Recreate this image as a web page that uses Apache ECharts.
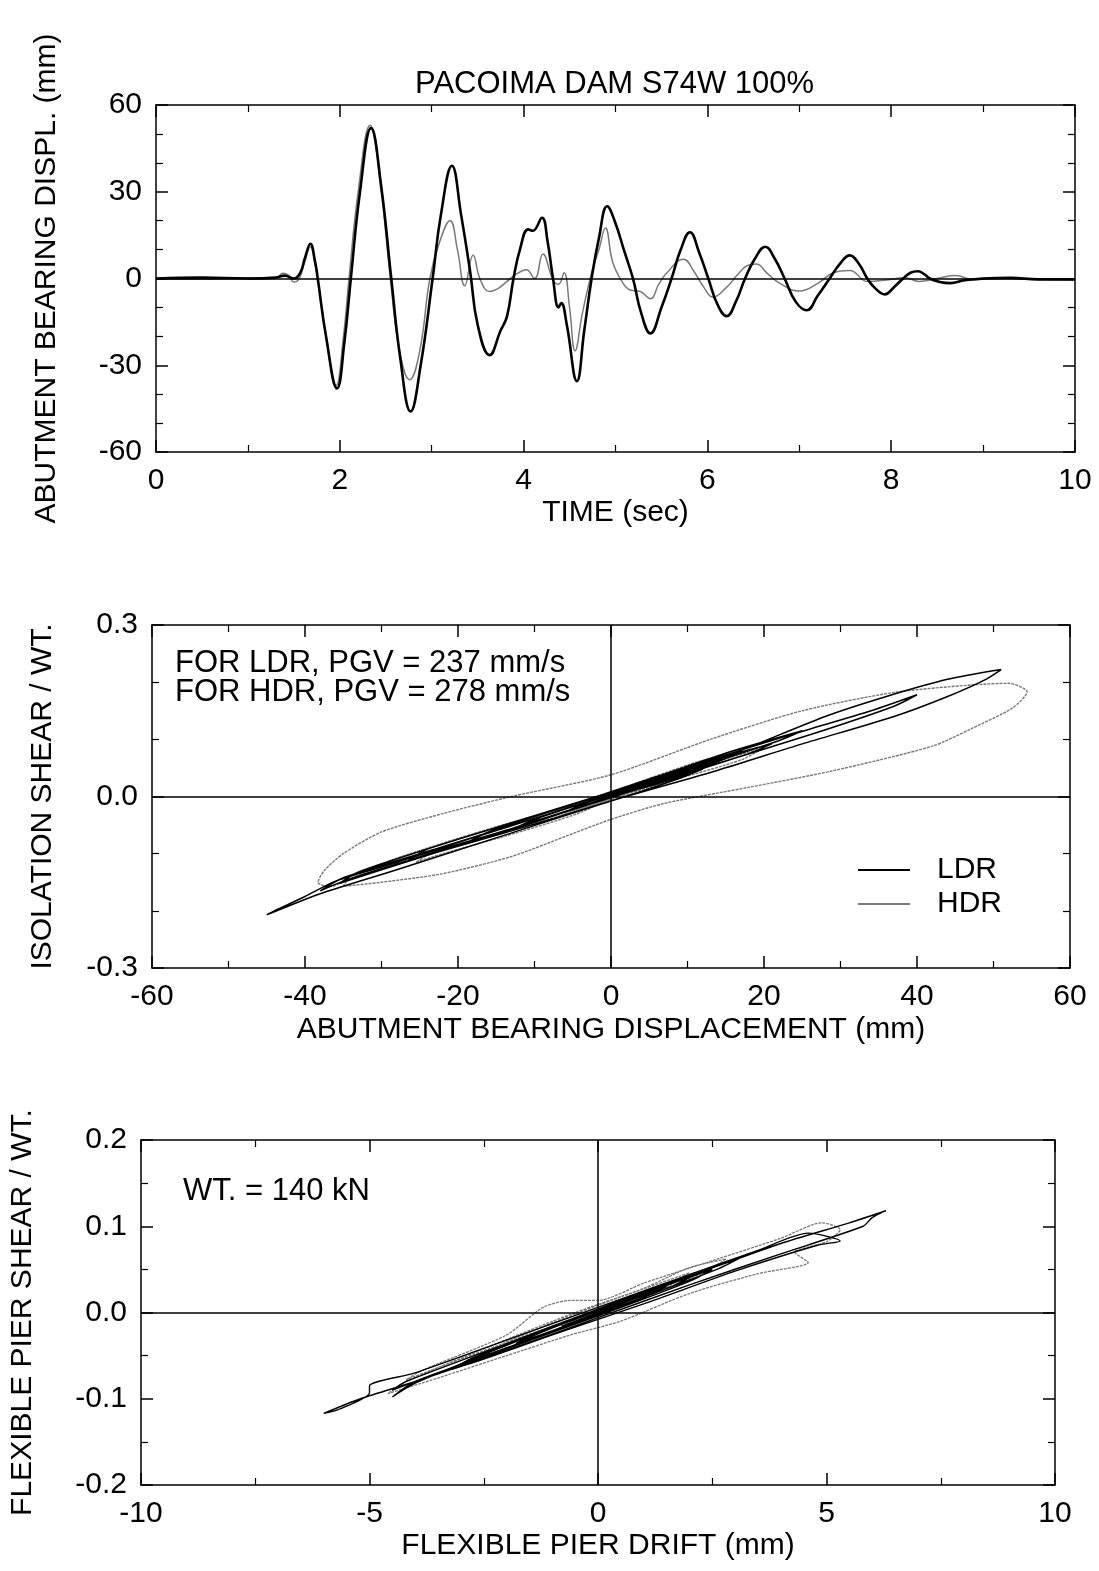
<!DOCTYPE html>
<html>
<head>
<meta charset="utf-8">
<script src="https://cdn.jsdelivr.net/npm/echarts@6/dist/echarts.min.js"></script>
<style>
  html, body { margin: 0; padding: 0; background: #fff; }
  #chart { width: 1099px; height: 1571px; }
</style>
</head>
<body>
<div id="chart"></div>
<script>
// time history: [time (sec), displacement (mm)]
const ldrTime = [[0,0],[0.5,0.3],[1.0,0],[1.3,0.3],[1.4,1],[1.5,0],[1.57,2],[1.62,7],[1.68,12],[1.73,6],[1.76,0],[1.85,-20],[1.97,-38],[2.05,-22],[2.12,0],[2.22,30],[2.34,52],[2.45,32],[2.56,0],[2.66,-28],[2.77,-46],[2.88,-30],[3.01,0],[3.1,22],[3.22,39],[3.32,22],[3.42,2],[3.5,-16],[3.63,-26.5],[3.75,-18],[3.82,-13],[3.89,0],[3.96,10],[4.05,17],[4.1,16.5],[4.2,21],[4.26,13],[4.32,0],[4.38,-10],[4.41,-8.5],[4.47,-16],[4.58,-35.5],[4.66,-18],[4.74,0],[4.82,14],[4.91,25],[4.99,20],[5.1,9],[5.19,0],[5.28,-12],[5.38,-19],[5.5,-10],[5.61,0],[5.71,10],[5.81,16],[5.91,9],[6.01,0],[6.11,-9],[6.21,-13],[6.31,-8],[6.41,0],[6.52,7],[6.63,11],[6.73,7],[6.84,0],[6.96,-8],[7.08,-11],[7.2,-6],[7.33,0],[7.44,5],[7.55,8],[7.65,5],[7.74,0],[7.83,-3.5],[7.93,-5.5],[8.03,-3],[8.13,0],[8.21,2],[8.29,2.5],[8.36,1.5],[8.42,0],[8.53,-1.2],[8.64,-1.6],[8.8,-0.6],[9.0,0],[9.3,0.2],[9.6,-0.3],[10,-0.3]];
const hdrTime = [[0,0],[0.5,-0.3],[1.0,0.2],[1.3,0],[1.38,1.8],[1.44,1.2],[1.5,-1.2],[1.56,0],[1.62,6],[1.68,11],[1.73,5],[1.76,0],[1.85,-20],[1.96,-37],[2.04,-20],[2.1,0],[2.2,30],[2.33,53],[2.44,33],[2.55,0],[2.65,-25],[2.76,-35],[2.87,-25],[2.98,0],[3.08,12],[3.2,20],[3.28,10],[3.36,-2.5],[3.45,8],[3.53,-0.5],[3.63,-4.5],[3.72,-3.5],[3.82,-1],[3.92,1.5],[4.03,3],[4.12,0],[4.21,8.5],[4.32,-0.5],[4.38,-2],[4.44,2],[4.5,-10],[4.56,-25],[4.64,-12],[4.74,2],[4.82,10],[4.89,17.5],[4.97,5.6],[5.07,-1],[5.16,-4],[5.27,-4.5],[5.38,-7],[5.47,-2],[5.56,2],[5.74,6.7],[5.85,2.6],[5.96,-3],[6.06,-6.4],[6.21,-3],[6.32,1],[6.43,4.4],[6.53,5],[6.66,1.5],[6.79,-1.7],[7.0,-4.3],[7.21,-1.5],[7.37,2],[7.55,2.8],[7.74,-1],[7.95,-0.5],[8.15,0.3],[8.3,-1],[8.5,0],[8.7,1],[8.9,-0.5],[9.2,0.3],[9.5,-0.3],[10,-0.5]];

// abutment bearing hysteresis: [displacement (mm), shear / wt]
const ldrLoop = [[0,0],[6,0.022],[12,0.048],[9,0.032],[0,-0.008],[-15,-0.068],[-28,-0.118],[-35,-0.148],[-38,-0.165],[-35,-0.142],[-22,-0.088],[-8,-0.03],[0,0.005],[14,0.065],[28,0.14],[36,0.175],[44,0.205],[51,0.222],[49,0.205],[44,0.175],[37,0.14],[25,0.092],[14,0.046],[0,-0.008],[-14,-0.068],[-28,-0.128],[-38,-0.17],[-45,-0.207],[-44,-0.2],[-40,-0.175],[-36,-0.148],[-28,-0.115],[-18,-0.072],[-8,-0.03],[0,0.005],[12,0.06],[24,0.11],[34,0.15],[40,0.178],[37,0.158],[26,0.108],[12,0.05],[0,0.0],[-12,-0.052],[-22,-0.092],[-26.5,-0.112],[-24,-0.092],[-12,-0.042],[0,0.008],[10,0.05],[17,0.078],[21,0.092],[18,0.075],[8,0.032],[-4,-0.018],[-18,-0.078],[-30,-0.128],[-35.5,-0.152],[-33,-0.132],[-20,-0.075],[-6,-0.018],[6,0.035],[16,0.08],[25,0.115],[22,0.098],[10,0.045],[0,0.0],[-10,-0.045],[-19,-0.082],[-16,-0.062],[-6,-0.018],[6,0.032],[16,0.072],[13,0.056],[3,0.012],[-8,-0.036],[-13,-0.058],[-10,-0.04],[0,0.004],[11,0.05],[8,0.034],[0,-0.002],[-11,-0.048],[-8,-0.03],[0,0.004],[8,0.036],[5,0.02],[-2,-0.01],[-5.5,-0.024],[-3,-0.01],[2.5,0.012],[0,0],[-1.6,-0.008],[0,-0.002]];
const hdrLoop = [[0,0],[1.8,0.012],[-1.2,-0.01],[0,0.002],[6,0.028],[11,0.05],[8,0.032],[0,-0.006],[-12,-0.055],[-24,-0.1],[-32,-0.132],[-37,-0.158],[-38.3,-0.15],[-37.5,-0.13],[-35,-0.1],[-30,-0.062],[-22,-0.03],[-13,0.0],[0,0.038],[13,0.1],[25,0.15],[37,0.182],[47,0.195],[52,0.198],[54.4,0.183],[52.5,0.155],[47,0.118],[42,0.088],[29,0.045],[18,0.016],[7,-0.012],[0,-0.04],[-6,-0.07],[-13,-0.105],[-22,-0.135],[-30,-0.15],[-35,-0.157],[-34,-0.14],[-28,-0.108],[-18,-0.065],[-6,-0.018],[5,0.025],[13,0.058],[20,0.085],[17,0.064],[8,0.028],[0,-0.004],[-2.5,-0.016],[1,0.006],[5,0.026],[8,0.04],[5,0.02],[0,-0.004],[-4.5,-0.024],[-3,-0.012],[0,0.004],[3,0.018],[1,0.004],[-0.5,-0.004],[4,0.024],[8.5,0.044],[5,0.024],[-0.5,-0.006],[-2,-0.014],[2,0.012],[-4,-0.028],[-14,-0.07],[-22,-0.1],[-25.5,-0.115],[-23,-0.095],[-12,-0.045],[0,0.008],[10,0.055],[17.5,0.085],[14,0.062],[5,0.022],[-1,-0.008],[-4,-0.022],[-7,-0.036],[-4,-0.018],[0,0.002],[4,0.024],[6.7,0.036],[4,0.018],[0,-0.004],[-6.4,-0.034],[-3,-0.012],[1,0.008],[5,0.028],[2,0.008],[-1.7,-0.012],[-4.3,-0.024],[-1.5,-0.004],[2,0.014],[2.8,0.018],[0,0],[-1,-0.008],[1,0.006],[0,0]];

// flexible pier hysteresis: [drift (mm), shear / wt]
const ldrPier = [[0,0],[0.7,0.014],[1.3,0.026],[0.8,0.012],[-1,-0.022],[-3,-0.06],[-4.5,-0.09],[-4.2,-0.08],[-2,-0.036],[0,0.004],[2,0.042],[4,0.08],[5.5,0.104],[6.3,0.118],[6.0,0.11],[5.8,0.1],[4,0.068],[2,0.032],[0,-0.006],[-2,-0.044],[-4,-0.08],[-5.2,-0.1],[-6,-0.117],[-5.7,-0.113],[-5,-0.093],[-5,-0.085],[-4,-0.07],[-2,-0.032],[0,0.006],[2,0.044],[3.5,0.072],[4.6,0.092],[5.3,0.083],[4.8,0.078],[3,0.048],[1,0.01],[-1,-0.026],[-2.5,-0.054],[-3.2,-0.066],[-2.8,-0.054],[-1,-0.016],[1,0.022],[2.5,0.05],[2,0.036],[0,-0.004],[-2,-0.042],[-4,-0.08],[-4.5,-0.098],[-4,-0.082],[-2,-0.038],[0,0.004],[2,0.044],[3.2,0.066],[2.6,0.05],[0,-0.002],[-2,-0.042],[-2.8,-0.058],[-2.2,-0.042],[0,0.004],[2.2,0.046],[1.6,0.03],[0,-0.002],[-1.8,-0.036],[-1.2,-0.022],[0,0.002],[1.5,0.03],[0.8,0.014],[-0.8,-0.016],[0,0]];
const hdrPier = [[0,0],[0.6,0.012],[1.2,0.026],[0.6,0.01],[-1,-0.016],[-3,-0.054],[-4.2,-0.078],[-3.8,-0.066],[-2,-0.026],[-1.2,0.006],[-0.6,0.014],[0,0.014],[1,0.034],[2.5,0.06],[4,0.086],[4.9,0.104],[5.3,0.096],[5,0.082],[4.3,0.07],[4.6,0.058],[3.5,0.045],[2,0.022],[0.5,-0.01],[-0.6,-0.026],[-2,-0.05],[-3.5,-0.076],[-4.6,-0.094],[-4.2,-0.08],[-2.5,-0.042],[-0.5,0],[1,0.028],[2,0.052],[2.8,0.062],[2.3,0.046],[1,0.018],[-1,-0.022],[-2.5,-0.05],[-3,-0.06],[-2.6,-0.048],[-1,-0.012],[0.5,0.018],[2,0.046],[1.5,0.03],[0,0],[-1,-0.022],[0,0.004],[1,0.022],[0,0]];

const FONT = 'Liberation Sans, Arial, sans-serif';
const FS = 30;

function axisX(grid, min, max, interval, minorSplit, primary, name, nameGap) {
  return {
    type: 'value', gridIndex: grid, min: min, max: max, interval: interval,
    position: primary ? 'bottom' : 'top',
    name: primary ? name : '', nameLocation: 'middle', nameGap: nameGap,
    nameTextStyle: { fontFamily: FONT, fontSize: FS, color: '#000' },
    axisLine: { show: true, onZero: false, lineStyle: { color: '#000', width: 1.5 } },
    axisTick: { show: true, inside: true, length: 12, lineStyle: { color: '#000', width: 1.5 } },
    minorTick: { show: true, splitNumber: minorSplit, length: 7, lineStyle: { color: '#000', width: 1.2 } },
    axisLabel: { show: primary, margin: 14, fontFamily: FONT, fontSize: FS, color: '#000' },
    splitLine: { show: false }
  };
}

function axisY(grid, min, max, interval, minorSplit, primary, name, nameGap, fmt) {
  return {
    type: 'value', gridIndex: grid, min: min, max: max, interval: interval,
    position: primary ? 'left' : 'right',
    name: primary ? name : '', nameLocation: 'middle', nameGap: nameGap,
    nameTextStyle: { fontFamily: FONT, fontSize: FS, color: '#000' },
    axisLine: { show: true, onZero: false, lineStyle: { color: '#000', width: 1.5 } },
    axisTick: { show: true, inside: true, length: 12, lineStyle: { color: '#000', width: 1.5 } },
    minorTick: { show: true, splitNumber: minorSplit, length: 7, lineStyle: { color: '#000', width: 1.2 } },
    axisLabel: { show: primary, margin: 14, fontFamily: FONT, fontSize: FS, color: '#000', formatter: fmt },
    splitLine: { show: false }
  };
}

const zeroH = { silent: true, symbol: 'none', label: { show: false },
  lineStyle: { color: '#000', width: 1.5, type: 'solid' }, data: [{ yAxis: 0 }] };
const zeroHV = { silent: true, symbol: 'none', label: { show: false },
  lineStyle: { color: '#000', width: 1.5, type: 'solid' }, data: [{ yAxis: 0 }, { xAxis: 0 }] };

const fmt1 = function (v) { return v.toFixed(1); };

const myChart = echarts.init(document.getElementById('chart'), null, { renderer: 'canvas' });
const option = {
  animation: false,
  backgroundColor: '#fff',
  title: {
    text: 'PACOIMA DAM S74W 100%', left: 410, top: 64,
    textStyle: { fontFamily: FONT, fontSize: 31, fontWeight: 'normal', color: '#000' }
  },
  grid: [
    { left: 156, top: 105, width: 919, height: 347 },
    { left: 152, top: 625, width: 918, height: 343 },
    { left: 136, top: 1140, width: 919, height: 345 }
  ],
  xAxis: [
    axisX(0, 0, 10, 2, 2, true, 'TIME (sec)', 46),
    axisX(0, 0, 10, 2, 2, false),
    axisX(1, -60, 60, 20, 2, true, 'ABUTMENT BEARING DISPLACEMENT (mm)', 47),
    axisX(1, -60, 60, 20, 2, false),
    axisX(2, -10, 10, 5, 2, true, 'FLEXIBLE PIER DRIFT (mm)', 46),
    axisX(2, -10, 10, 5, 2, false)
  ],
  yAxis: [
    axisY(0, -60, 60, 30, 3, true, 'ABUTMENT BEARING DISPL. (mm)', 94),
    axisY(0, -60, 60, 30, 3, false),
    axisY(1, -0.3, 0.3, 0.3, 3, true, 'ISOLATION SHEAR / WT.', 94, fmt1),
    axisY(1, -0.3, 0.3, 0.3, 3, false),
    axisY(2, -0.2, 0.2, 0.1, 2, true, 'FLEXIBLE PIER SHEAR / WT.', 103, fmt1),
    axisY(2, -0.2, 0.2, 0.1, 2, false)
  ],
  legend: {
    orient: 'vertical', left: 853, top: 850, itemWidth: 52, itemHeight: 2, itemGap: 4,
    icon: 'rect',
    textStyle: { fontFamily: FONT, fontSize: FS, color: '#000', padding: [0, 0, 0, 22] },
    data: ['LDR', 'HDR']
  },
  graphic: [
    { type: 'text', left: 175, top: 648, style: { text: 'FOR LDR, PGV = 237 mm/s', font: '31px ' + FONT, fill: '#000' } },
    { type: 'text', left: 175, top: 677, style: { text: 'FOR HDR, PGV = 278 mm/s', font: '31px ' + FONT, fill: '#000' } },
    { type: 'text', left: 183, top: 1176, style: { text: 'WT. = 140 kN', font: '31px ' + FONT, fill: '#000' } }
  ],
  series: [
    { name: 'HDR', type: 'line', xAxisIndex: 0, yAxisIndex: 0, data: hdrTime, symbol: 'none',
      smooth: 0.45, lineStyle: { color: '#7a7a7a', width: 1.5 }, itemStyle: { color: '#7a7a7a' } },
    { name: 'LDR', type: 'line', xAxisIndex: 0, yAxisIndex: 0, data: ldrTime, symbol: 'none',
      smooth: 0.45, lineStyle: { color: '#000', width: 2.6 }, itemStyle: { color: '#000' },
      markLine: zeroH },
    { name: 'HDR', type: 'line', xAxisIndex: 2, yAxisIndex: 2, data: hdrLoop, symbol: 'none',
      smooth: 0.25, lineStyle: { color: '#7a7a7a', width: 1.4, type: [3, 1] }, itemStyle: { color: '#7a7a7a' } },
    { name: 'LDR', type: 'line', xAxisIndex: 2, yAxisIndex: 2, data: ldrLoop, symbol: 'none',
      smooth: 0.25, lineStyle: { color: '#000', width: 1.5 }, itemStyle: { color: '#000' },
      markLine: zeroHV },
    { name: 'HDR', type: 'line', xAxisIndex: 4, yAxisIndex: 4, data: hdrPier, symbol: 'none',
      smooth: 0.25, lineStyle: { color: '#7a7a7a', width: 1.3, type: [3, 1] }, itemStyle: { color: '#7a7a7a' } },
    { name: 'LDR', type: 'line', xAxisIndex: 4, yAxisIndex: 4, data: ldrPier, symbol: 'none',
      smooth: 0.25, lineStyle: { color: '#000', width: 1.4 }, itemStyle: { color: '#000' },
      markLine: zeroHV }
  ]
};
myChart.setOption(option);
</script>
</body>
</html>
